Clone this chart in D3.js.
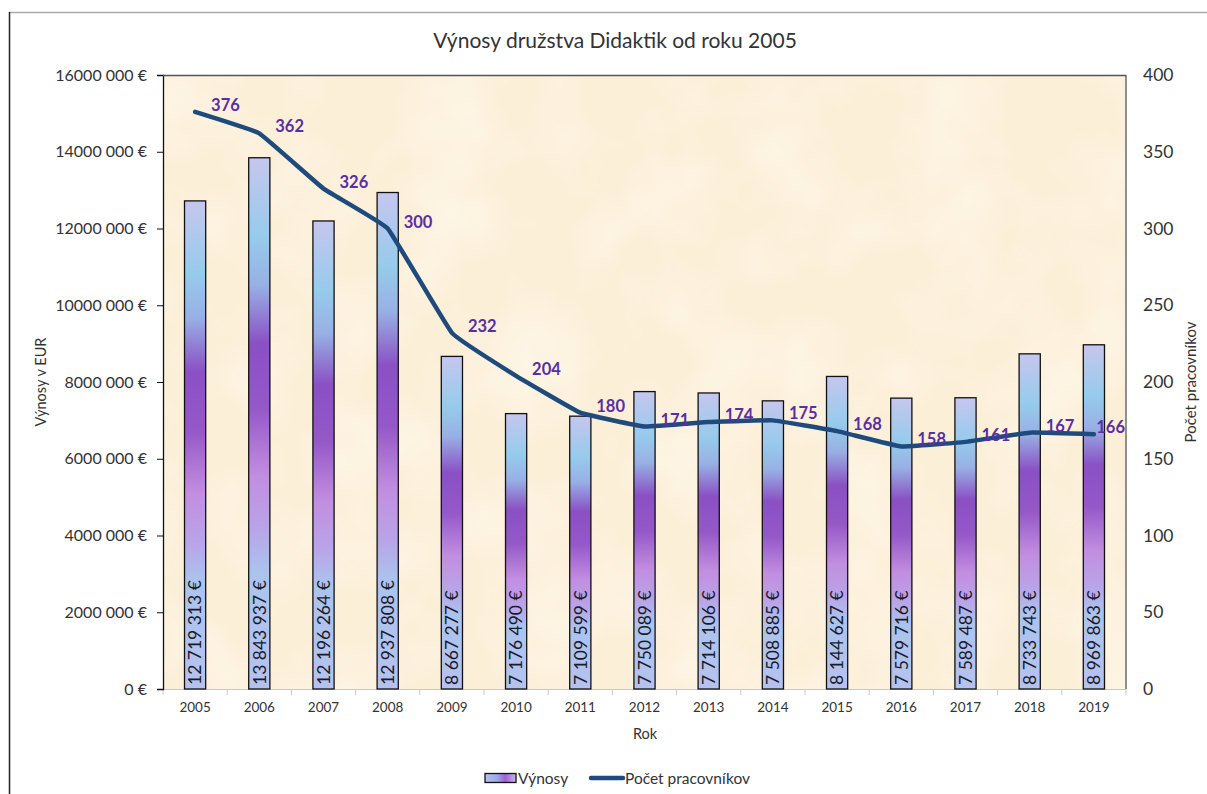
<!DOCTYPE html>
<html>
<head>
<meta charset="utf-8">
<script src="https://cdn.jsdelivr.net/npm/d3@7"></script>
<style>
  body { margin: 0; background: #fff; }
  svg { display: block; font-family: Lato, "Open Sans", sans-serif; }
</style>
</head>
<body>
<div id="graphicContainer"></div>
<script>

var years = ["2005", "2006", "2007", "2008", "2009", "2010", "2011", "2012", "2013", "2014", "2015", "2016", "2017", "2018", "2019"]
var vynosy = [12719313, 13843937, 12196264, 12937808, 8667277, 7176490, 7109599, 7750089, 7714106, 7508885, 8144627, 7579716, 7589487, 8733743, 8969863]
var pracovnici = [376, 362, 326, 300, 232, 204, 180, 171, 174, 175, 168, 158, 161, 167, 166]

var leftTicks = [0, 2000000, 4000000, 6000000, 8000000, 10000000, 12000000, 14000000, 16000000]
var rightTicks = [0, 50, 100, 150, 200, 250, 300, 350, 400]

var data = years.map(function (d, i) {
	return { rok: d, vynosy: vynosy[i], pocet: pracovnici[i] }
})

var W = 1207, H = 794
var margin = { top: 75, right: 81, bottom: 105, left: 163 }
var width = W - margin.left - margin.right
var height = H - margin.top - margin.bottom

var locale = d3.formatLocale({ decimal: ",", thousands: " ", grouping: [3], currency: ["", " €"] })
var eur = locale.format("$,.0f")
// the axis writes "16000 000 €": only the last group is split off
function axisEur(v) {
	return v == 0 ? "0 €" : (v / 1000) + " 000 €"
}

var svg = d3.select("#graphicContainer").append("svg")
	.attr("width", W)
	.attr("height", H)

var defs = svg.append("defs")

var grad = defs.append("linearGradient")
	.attr("id", "barGrad")
	.attr("x1", 0).attr("y1", 0).attr("x2", 0).attr("y2", 1)

var stops = [
	[0, "#c6c6ee"], [0.15, "#96cbec"], [0.24, "#98b0e4"], [0.35, "#8a50c4"],
	[0.47, "#9458c8"], [0.6, "#c28ee0"], [0.7, "#b9a4e8"], [0.78, "#aac4ee"], [1, "#b6c2ee"]
]
grad.selectAll("stop").data(stops).enter().append("stop")
	.attr("offset", d => d[0]).attr("stop-color", d => d[1])

var legGrad = defs.append("linearGradient")
	.attr("id", "legGrad")
	.attr("x1", 0).attr("y1", 0).attr("x2", 1).attr("y2", 0)
legGrad.selectAll("stop").data([[0, "#b6c2ee"], [0.4, "#9aa8e6"], [0.65, "#a060d0"], [1, "#c8b8ee"]]).enter().append("stop")
	.attr("offset", d => d[0]).attr("stop-color", d => d[1])

// paper-like texture for the plot area
var tex = defs.append("filter").attr("id", "paper").attr("x", 0).attr("y", 0).attr("width", 1).attr("height", 1)
tex.append("feTurbulence").attr("type", "fractalNoise").attr("baseFrequency", 0.012).attr("numOctaves", 3).attr("seed", 4)
tex.append("feColorMatrix").attr("type", "matrix")
	.attr("values", "0 0 0 0 1  0 0 0 0 0.98  0 0 0 0 0.93  0.9 0 0 0 -0.35")
tex.append("feComposite").attr("in2", "SourceGraphic").attr("operator", "in")

// outer frame
svg.append("line").attr("x1", 9).attr("x2", W).attr("y1", 12.5).attr("y2", 12.5)
	.attr("stroke", "#aaa").attr("stroke-width", 1.5)
svg.append("line").attr("x1", 9.5).attr("x2", 9.5).attr("y1", 12).attr("y2", H)
	.attr("stroke", "#222").attr("stroke-width", 1.5)

svg.append("text")
	.attr("x", 615).attr("y", 48)
	.attr("text-anchor", "middle")
	.attr("font-size", 21)
	.attr("fill", "#333")
	.text("Výnosy družstva Didaktik od roku 2005")

var features = svg.append("g").attr("transform", "translate(" + margin.left + "," + margin.top + ")")

var x = d3.scaleBand()
	.range([0, width])
	.domain(years)
	.paddingInner(0.67)
	.paddingOuter(0.335)

var y = d3.scaleLinear().range([height, 0]).domain([0, 16000000])
var y2 = d3.scaleLinear().range([height, 0]).domain([0, 400])

features.append("rect")
	.attr("width", width).attr("height", height)
	.attr("fill", "#fcefd8")
features.append("rect")
	.attr("width", width).attr("height", height)
	.attr("fill", "#fff")
	.attr("filter", "url(#paper)")

// x axis: light line, ticks between categories
features.append("line")
	.attr("x1", 0).attr("x2", width).attr("y1", height + 0.5).attr("y2", height + 0.5)
	.attr("stroke", "#c8c8c8")
features.selectAll(".xtick")
	.data(d3.range(years.length + 1))
	.enter().append("line")
	.attr("x1", d => d * x.step()).attr("x2", d => d * x.step())
	.attr("y1", height).attr("y2", height + 6)
	.attr("stroke", "#c8c8c8")

features.selectAll(".xlab")
	.data(years)
	.enter().append("text")
	.attr("x", d => x(d) + x.bandwidth() / 2)
	.attr("y", height + 23)
	.attr("text-anchor", "middle")
	.attr("font-size", 13.5)
	.attr("fill", "#333")
	.text(d => d)

// bars
features.selectAll(".bar")
	.data(data)
	.enter().append("rect")
	.attr("x", d => x(d.rok))
	.attr("y", d => y(d.vynosy))
	.attr("width", x.bandwidth())
	.attr("height", d => height - y(d.vynosy))
	.attr("fill", "url(#barGrad)")
	.attr("stroke", "#111")
	.attr("stroke-width", 1.3)

features.selectAll(".barlab")
	.data(data)
	.enter().append("text")
	.attr("transform", d => "translate(" + (x(d.rok) + x.bandwidth() / 2 + 6.3) + "," + (height - 4) + ") rotate(-90)")
	.attr("font-size", 17.5)
	.attr("fill", "#1a1a2a")
	.text(d => eur(d.vynosy))

// left axis
var yAxis = d3.axisLeft(y).tickValues(leftTicks).tickFormat(axisEur).tickSize(6).tickPadding(10)
var gy = features.append("g").call(yAxis)
gy.select(".domain").attr("stroke", "#111").attr("stroke-width", 1.3)
gy.selectAll(".tick line").attr("stroke", "#111")
gy.selectAll("text").attr("font-size", 16).attr("fill", "#333").attr("font-family", "Lato, sans-serif")

// right border and axis labels
features.append("line")
	.attr("x1", 0).attr("x2", width).attr("y1", 0.5).attr("y2", 0.5)
	.attr("stroke", "#555").attr("stroke-width", 1.3)
features.append("line")
	.attr("x1", width).attr("x2", width).attr("y1", 0).attr("y2", height)
	.attr("stroke", "#555").attr("stroke-width", 1.3)

var y2Axis = d3.axisRight(y2).tickValues(rightTicks).tickSize(0).tickPadding(17)
var gy2 = features.append("g").attr("transform", "translate(" + width + ",0)").call(y2Axis)
gy2.select(".domain").remove()
gy2.selectAll("text").attr("font-size", 17.5).attr("fill", "#333").attr("font-family", "Lato, sans-serif")

// line
var line = d3.line()
	.x(d => x(d.rok) + x.bandwidth() / 2)
	.y(d => y2(d.pocet))
	.curve(d3.curveCardinal.tension(0.75))

features.append("path")
	.datum(data)
	.attr("d", line)
	.attr("fill", "none")
	.attr("stroke", "#1f4a7c")
	.attr("stroke-width", 4.5)
	.attr("stroke-linejoin", "round")
	.attr("stroke-linecap", "round")

features.selectAll(".linelab")
	.data(data)
	.enter().append("text")
	.attr("x", d => x(d.rok) + x.bandwidth() / 2 + 16)
	.attr("y", d => y2(d.pocet) - 1)
	.attr("font-size", 16.5)
	.attr("font-weight", "bold")
	.attr("fill", "#5a2ea2")
	.text(d => d.pocet)
	.each(function () {
		var t = d3.select(this)
		var w = this.getComputedTextLength()
		if (+t.attr("x") + w > width) t.attr("x", width - w - 1)
	})

// axis titles
svg.append("text")
	.attr("transform", "translate(46,382) rotate(-90)")
	.attr("text-anchor", "middle")
	.attr("font-size", 14.5)
	.attr("fill", "#333")
	.text("Výnosy v EUR")

svg.append("text")
	.attr("transform", "translate(1196,382) rotate(-90)")
	.attr("text-anchor", "middle")
	.attr("font-size", 15)
	.attr("fill", "#333")
	.text("Počet pracovníkov")

svg.append("text")
	.attr("x", 645).attr("y", 739)
	.attr("text-anchor", "middle")
	.attr("font-size", 14.5)
	.attr("fill", "#333")
	.text("Rok")

// legend
var legend = svg.append("g").attr("transform", "translate(485,778)")
legend.append("rect")
	.attr("x", 0).attr("y", -4.5).attr("width", 31).attr("height", 9)
	.attr("fill", "url(#legGrad)").attr("stroke", "#111").attr("stroke-width", 1.3)
legend.append("text").attr("x", 33).attr("y", 5.5).attr("font-size", 15.5).attr("fill", "#333").text("Výnosy")
legend.append("line").attr("x1", 106).attr("x2", 138).attr("y1", 0).attr("y2", 0)
	.attr("stroke", "#1f4a7c").attr("stroke-width", 4.5).attr("stroke-linecap", "round")
legend.append("text").attr("x", 140).attr("y", 5.5).attr("font-size", 15.5).attr("fill", "#333").text("Počet pracovníkov")

</script>
</body>
</html>
